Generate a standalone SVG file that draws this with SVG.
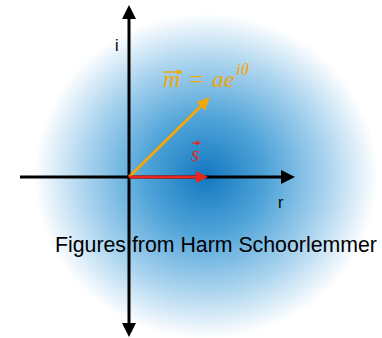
<svg xmlns="http://www.w3.org/2000/svg" width="382" height="338" viewBox="0 0 382 338">
<defs>
<radialGradient id="bg" cx="0.5" cy="0.5" r="0.5">
<stop offset="0" stop-color="#1478c0"/>
<stop offset="0.35" stop-color="#4ea3d8"/>
<stop offset="0.7" stop-color="#a9d3ee"/>
<stop offset="1" stop-color="#ffffff"/>
</radialGradient>
</defs>
<style>
.ax{stroke:#000;stroke-width:3;fill:none}
.lbl{font-family:"Liberation Sans",Arial,sans-serif;fill:#000}
.math{font-family:"Liberation Serif","Times New Roman",serif;font-style:italic}
</style>
<ellipse id="background" cx="206" cy="176" rx="172" ry="163" fill="url(#bg)"/>
<g id="connectors">
<line class="ax" x1="129" y1="16" x2="129" y2="326"/>
<polygon points="129,5 136,19 122,19" fill="#000"/>
<polygon points="129,337 136,323 122,323" fill="#000"/>
<line class="ax" x1="20" y1="177" x2="283" y2="177"/>
<polygon points="295,177 281,170 281,184" fill="#000"/>
<line x1="129" y1="177" x2="202" y2="105" stroke="#f2a70c" stroke-width="3"/>
<polygon points="210,97 205.1,110.5 196.6,102" fill="#f2a70c"/>
<line x1="129" y1="177" x2="198" y2="177" stroke="#e8271c" stroke-width="3"/>
<polygon points="208,177 196,171 196,183" fill="#e8271c"/>
</g>
<g id="label-i"><text class="lbl" x="115" y="51" font-size="16">i</text></g>
<g id="label-r"><text class="lbl" x="278" y="208" font-size="16">r</text></g>
<g id="label-m">
<line x1="163" y1="72" x2="180" y2="72" stroke="#f2a70c" stroke-width="1.4"/>
<path d="M177,69 L183,72 L177,75 Z" fill="#f2a70c"/>
<text class="math" x="163" y="87" font-size="24" fill="#f2a70c">m</text>
<text x="189" y="88" font-size="26" fill="#f2a70c" font-family="Liberation Serif,serif">=</text>
<text class="math" x="212" y="87" font-size="24" fill="#f2a70c">ae</text>
<text class="math" x="236" y="75" font-size="17" fill="#f2a70c">iθ</text>
</g>
<g id="label-s">
<line x1="192" y1="143" x2="198" y2="143" stroke="#e8271c" stroke-width="1.2"/>
<path d="M196,140.5 L201,143 L196,145.5 Z" fill="#e8271c"/>
<text class="math" x="191" y="161" font-size="22" fill="#e8271c">s</text>
</g>
<g id="caption"><text class="lbl" x="55" y="252" font-size="21.3">Figures from Harm Schoorlemmer</text></g>
</svg>
